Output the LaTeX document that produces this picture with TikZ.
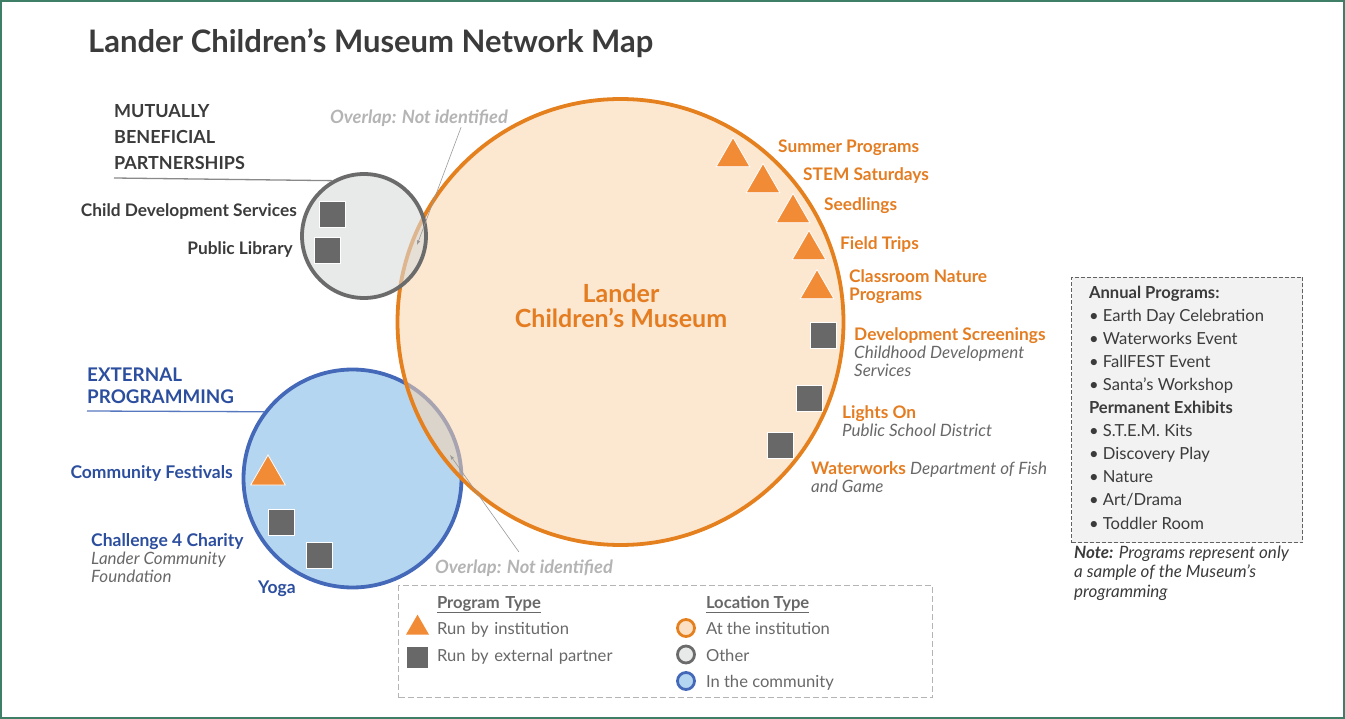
\documentclass[tikz,border=0pt]{standalone}
\usepackage{fontspec}
\setmainfont{Lato}
\usetikzlibrary{matrix,shapes.geometric,positioning}

\definecolor{frameGreen}{HTML}{3F7F68}
\definecolor{inkDark}{HTML}{3B3B3B}
\definecolor{inkGrey}{HTML}{686868}
\definecolor{inkFaint}{HTML}{B4B4B4}
\definecolor{museumLine}{HTML}{E5801F}
\definecolor{museumFill}{HTML}{F9D3AB}
\definecolor{museumInk}{HTML}{E47D22}
\definecolor{otherLine}{HTML}{6B6B6B}
\definecolor{otherFill}{HTML}{D9DADA}
\definecolor{communityLine}{HTML}{4469B8}
\definecolor{communityFill}{HTML}{B5D6F0}
\definecolor{communityInk}{HTML}{2C4E9E}
\definecolor{triOrange}{HTML}{F28B35}
\definecolor{sqGrey}{HTML}{686868}
\definecolor{boxGrey}{HTML}{F2F2F2}

\def\sz#1#2{\fontsize{#1}{#2}\selectfont}
\def\partner#1{{\sz{17}{18}\mdseries\itshape\color{inkGrey}#1}}

\def\ProgramList{
    \matrix (programs)
    [matrix of nodes,
    ampersand replacement=\&,
    row sep={8.1pt},
    inner sep=0pt, outer sep=0pt,
    anchor=north west,
    nodes={anchor=base west, inner sep=0pt, text height=11pt, text depth=4pt, font=\sz{16.6}{18}, text=inkDark} ]
    at (1089,287)
    {
     |[font=\sz{16.6}{18}\bfseries]| Annual Programs: \\
     \textbullet\ Earth Day Celebration \\
     \textbullet\ Waterworks Event \\
     \textbullet\ FallFEST Event \\
     \textbullet\ Santa’s Workshop \\
     |[font=\sz{16.6}{18}\bfseries]| Permanent Exhibits \\
     \textbullet\ S.T.E.M. Kits \\
     \textbullet\ Discovery Play \\
     \textbullet\ Nature \\
     \textbullet\ Art/Drama \\
     \textbullet\ Toddler Room \\
};
}

\def\Legend{
    \matrix (legend)
    [matrix of nodes,
    ampersand replacement=\&,
    column sep={10pt},
    row sep={11.5pt},
    inner sep=0pt, outer sep=0pt,
    anchor=north west,
    column 1/.style={nodes={text width=259pt}},
    nodes={anchor=base west, inner sep=0pt, text height=11pt, text depth=4pt, font=\sz{16.6}{18}, text=inkGrey} ]
    at (437,597)
    {
     |[font=\sz{16.6}{18}\bfseries]| \underline{Program Type} \& |[font=\sz{16.6}{18}\bfseries]| \underline{Location Type} \\
     Run by institution \& At the institution \\
     Run by external partner \& Other \\
     \& In the community \\
};
}

\begin{document}
\begin{tikzpicture}[x=1pt, y=-1pt,
    sq/.style={rectangle, fill=sqGrey, draw=white, line width=0.8pt, minimum size=26pt, inner sep=0pt},
    tri/.style={regular polygon, regular polygon sides=3, fill=triOrange, draw=white, line width=0.8pt, minimum size=39pt, inner sep=0pt},
    zone/.style={circle, line width=3.8pt, inner sep=0pt},
    loc/.style={circle, line width=2.8pt, minimum size=17pt, inner sep=0pt},
    pointer/.style={draw=inkFaint!85!black, line width=0.6pt, -latex},
    rule/.style={line width=1.3pt},
    darkTag/.style={inner sep=0pt, anchor=base west, align=left, font=\sz{17.3}{18}\bfseries, text=inkDark},
    orangeTag/.style={inner sep=0pt, anchor=base west, align=left, font=\sz{17.3}{18}\bfseries, text=museumInk},
    blueTag/.style={inner sep=0pt, anchor=base west, align=left, font=\sz{17.5}{18}\bfseries, text=communityInk},
    faintTag/.style={inner sep=0pt, anchor=base west, font=\sz{18.3}{18}\bfseries\itshape, text=inkFaint}]
    \useasboundingbox (0,0) rectangle (1345,719);
    \draw[frameGreen, line width=2pt] (1,1) rectangle (1344,718);

    \node[darkTag, font=\sz{31}{32}\bfseries] (title) at (88,53) {Lander Children’s Museum Network Map};

    \node[zone, draw=communityLine, fill=communityFill, minimum size=218pt] (community) at (352.5,478.5) {};
    \node[zone, draw=museumLine, fill=museumFill, fill opacity=0.55, minimum size=446pt] (museum) at (620.5,322) {};
    \node[zone, draw=otherLine, fill=otherFill, fill opacity=0.6, minimum size=124pt] (other) at (364,236) {};

    \node[orangeTag, anchor=base, align=center, font=\sz{25}{25}\bfseries] (museumName) at (621,328) {Lander\\Children’s Museum};

    \node[darkTag, font=\sz{18}{26}\bfseries] (partners) at (114,170) {MUTUALLY\\BENEFICIAL\\PARTNERSHIPS};
    \coordinate (partnersRule) at (114,178);
    \draw[rule, otherLine!80] (partnersRule) -- (other.120);

    \node[blueTag, font=\sz{18.8}{23}\bfseries] (external) at (87,404) {EXTERNAL\\PROGRAMMING};
    \coordinate (externalRule) at (87,411);
    \draw[rule, communityLine!90] (externalRule) -- (community.143);

    \node[sq] (cds) at (332,214) {};
    \node[sq] (library) at (327.5,250) {};
    \node[darkTag, anchor=base east] (cdsTag) at (297,217) {Child Development Services};
    \node[darkTag, anchor=base east] (libraryTag) at (293,255) {Public Library};

    \node[tri] (summer) at (733,157) {};
    \node[tri] (stem) at (763,183) {};
    \node[tri] (seedlings) at (793,213) {};
    \node[tri] (fieldTrips) at (809,250) {};
    \node[tri] (classroom) at (817,289) {};
    \node[sq] (screenings) at (823,335) {};
    \node[sq] (lightsOn) at (809,398) {};
    \node[sq] (waterworks) at (780,445) {};

    \node[orangeTag] (summerTag) at (778,153) {Summer Programs};
    \node[orangeTag] (stemTag) at (803,181) {STEM Saturdays};
    \node[orangeTag] (seedlingsTag) at (824,211) {Seedlings};
    \node[orangeTag] (fieldTag) at (840,250) {Field Trips};
    \node[orangeTag] (classroomTag) at (849,301) {Classroom Nature\\Programs};
    \node[orangeTag] (screeningsTag) at (854,377) {Development Screenings\\\partner{Childhood Development}\\\partner{Services}};
    \node[orangeTag] (lightsTag) at (842,436) {Lights On\\\partner{Public School District}};
    \node[orangeTag] (waterTag) at (811,492) {Waterworks \partner{Department of Fish}\\\partner{and Game}};

    \node[tri, minimum size=40pt] (festivals) at (268,475) {};
    \node[sq] (charity) at (281,522) {};
    \node[sq] (yoga) at (319.5,555.5) {};
    \node[blueTag, anchor=base east] (festivalsTag) at (233,478) {Community Festivals};
    \node[blueTag] (charityTag) at (91,582) {Challenge 4 Charity\\\partner{Lander Community}\\\partner{Foundation}};
    \node[blueTag] (yogaTag) at (258,593) {Yoga};

    \node[faintTag] (overlapTop) at (330,124) {Overlap: Not identified};
    \node[faintTag] (overlapBottom) at (435,573) {Overlap: Not identified};
    \coordinate (gapTop) at (417,245);
    \coordinate (gapBottom) at (450,455);
    \draw[pointer] ([xshift=42pt]overlapTop.south) -- (gapTop);
    \draw[pointer, shorten <=9pt] (overlapBottom.north) -- (gapBottom);

    \node[draw=inkDark!80, dash pattern=on 4pt off 2pt, line width=1pt, fill=boxGrey, minimum width=231pt, minimum height=265pt, inner sep=0pt, anchor=north west] (annualBox) at (1071,277) {};
    \ProgramList
    \node[darkTag, font=\sz{17}{19.5}\mdseries\itshape] (note) at (1074,597) {{\bfseries Note:} Programs represent only\\a sample of the Museum’s\\programming};

    \node[draw=inkFaint, dash pattern=on 6pt off 3pt, line width=1pt, minimum width=534pt, minimum height=112pt, inner sep=0pt, anchor=north west] (legendBox) at (398,585) {};
    \Legend
    \node[tri, minimum size=26.6pt, draw=none] (legendTri) at ([xshift=-19.5pt,yshift=3pt]legend-2-1.west) {};
    \node[sq, minimum size=21pt, draw=none] (legendSq) at ([xshift=-19.5pt]legend-3-1.west) {};
    \node[loc, draw=museumLine, fill=museumFill!70!white] (legendMuseum) at ([xshift=-20pt,yshift=3pt]legend-2-2.west) {};
    \node[loc, draw=otherLine, fill=otherFill!60!white] (legendOther) at ([xshift=-20pt,yshift=3pt]legend-3-2.west) {};
    \node[loc, draw=communityLine, fill=communityFill] (legendCommunity) at ([xshift=-20pt,yshift=3pt]legend-4-2.west) {};
\end{tikzpicture}
\end{document}
